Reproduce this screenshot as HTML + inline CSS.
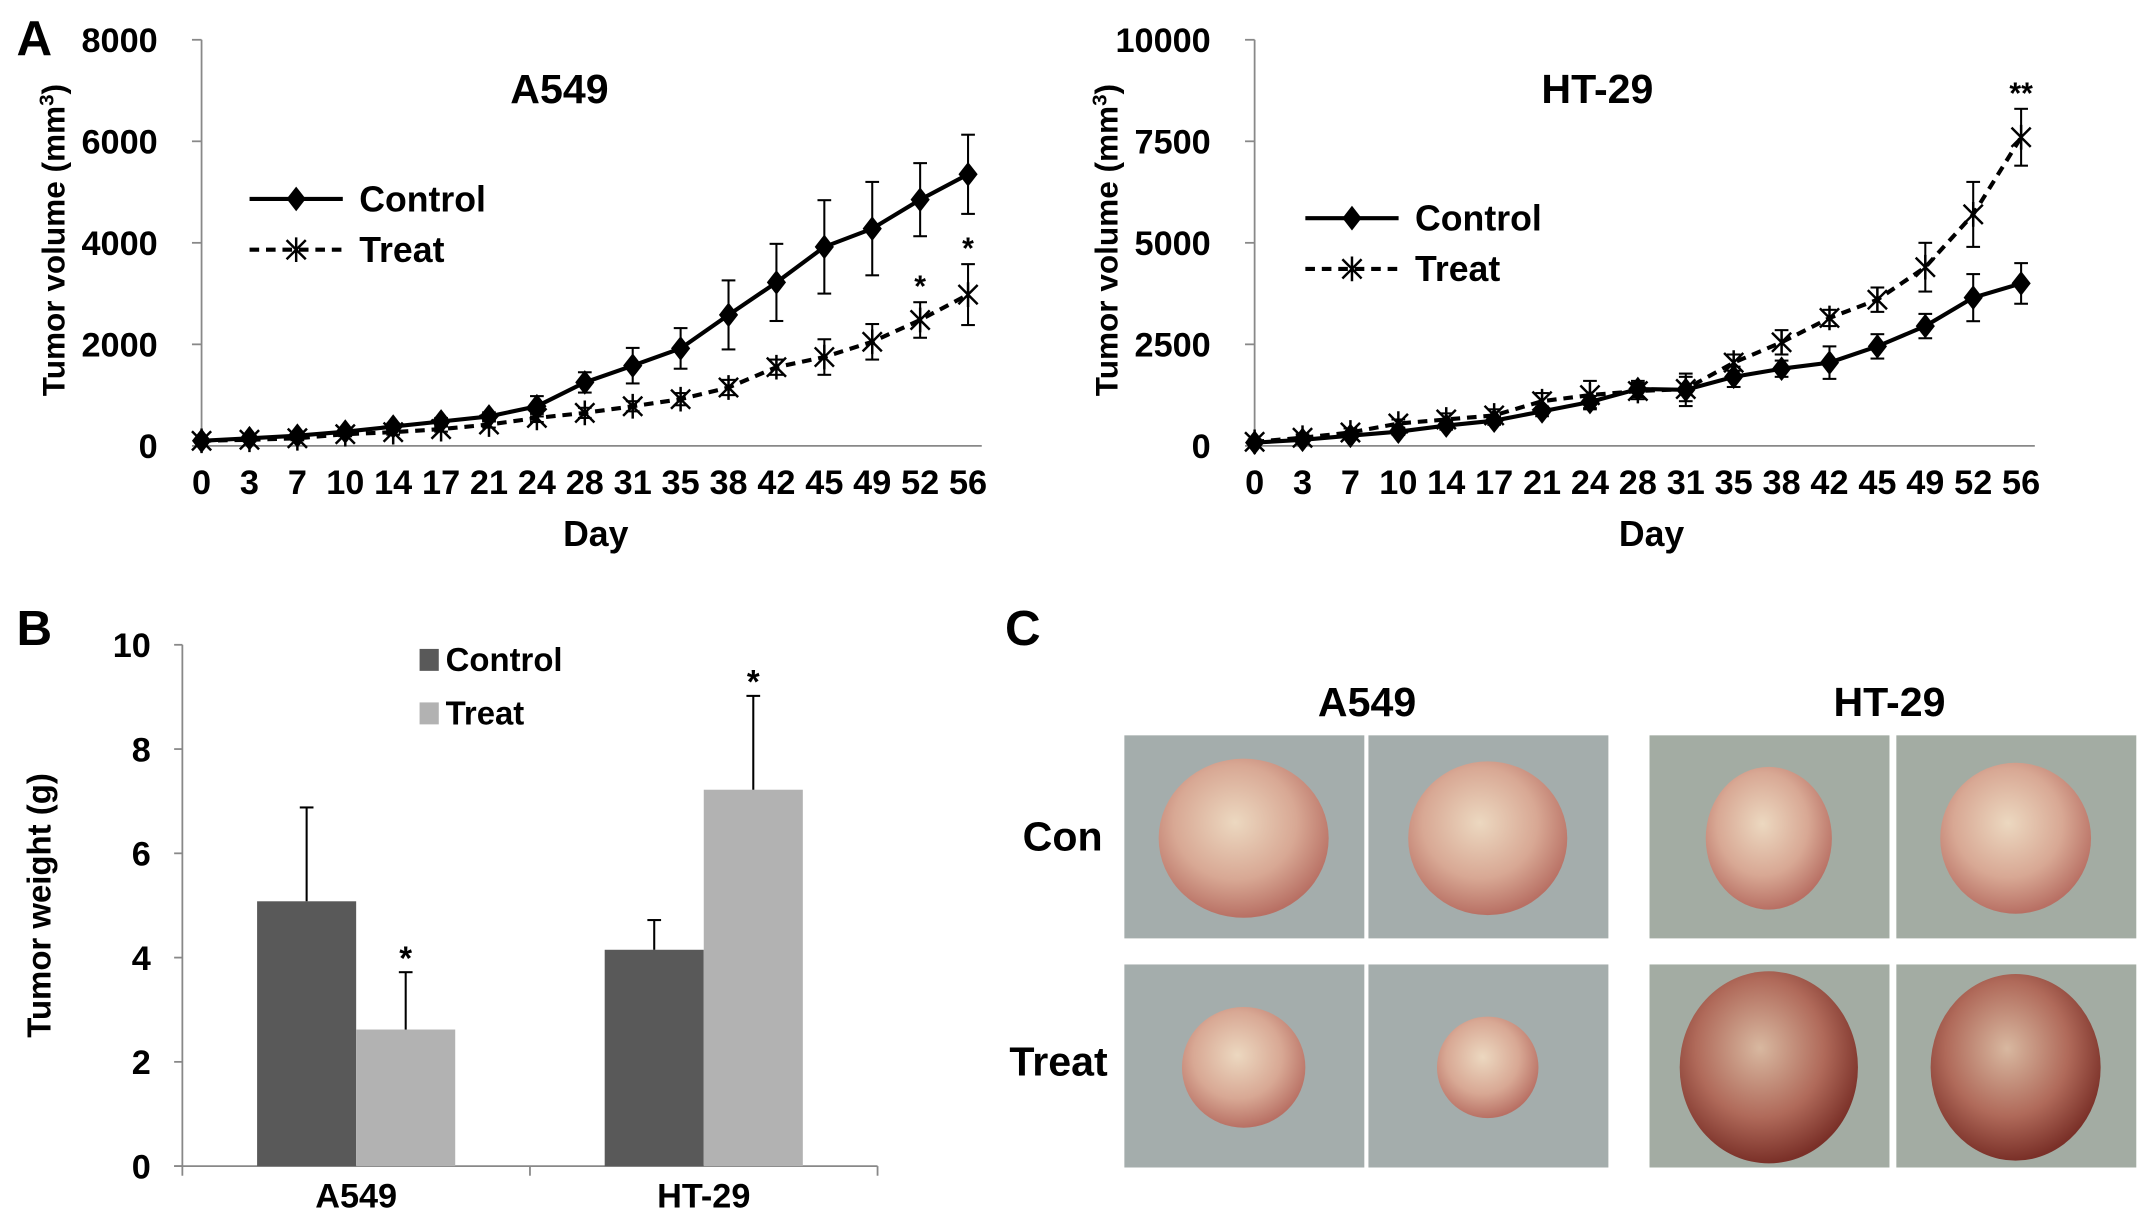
<!DOCTYPE html>
<html><head><meta charset="utf-8">
<style>
html,body{margin:0;padding:0;background:#fff;}
svg{display:block;}
text{font-family:"Liberation Sans Narrow","Liberation Sans",sans-serif;font-weight:bold;fill:#000;}
.w{font-family:"Liberation Sans",sans-serif;}
</style></head>
<body>
<svg id="fig" width="2150" height="1221" viewBox="0 0 1568 890" preserveAspectRatio="none" xmlns="http://www.w3.org/2000/svg">
<defs>
<radialGradient id="tumorA" cx="45%" cy="40%" r="60%"><stop offset="0" stop-color="#ecd8c0"/><stop offset="0.6" stop-color="#d8a894"/><stop offset="1" stop-color="#b87064"/></radialGradient>
<radialGradient id="tumorB" cx="45%" cy="40%" r="60%"><stop offset="0" stop-color="#d8b8a0"/><stop offset="0.6" stop-color="#b06a5a"/><stop offset="1" stop-color="#7a3028"/></radialGradient>
</defs>
<g id="layer"></g>
</svg>
<script>
// ---- data ----
const days = [0,3,7,10,14,17,21,24,28,31,35,38,42,45,49,52,56];
const a549Control = [100,150,200,280,380,480,580,780,1250,1580,1920,2580,3220,3920,4280,4850,5350];
const a549ControlErr = [40,40,50,60,60,70,80,200,200,350,400,680,760,920,920,720,780];
const a549Treat = [100,120,150,230,270,330,420,550,650,780,920,1150,1550,1750,2050,2480,2980];
const a549TreatErr = [30,30,40,40,50,50,60,80,100,100,120,150,150,350,350,350,600];
const ht29Control = [80,150,250,350,500,620,850,1080,1400,1380,1700,1900,2050,2450,2950,3650,4000];
const ht29ControlErr = [50,60,80,80,100,100,120,150,200,400,250,200,400,300,300,580,500];
const ht29Treat = [100,200,330,550,650,750,1100,1250,1350,1400,2050,2550,3150,3600,4400,5700,7600];
const ht29TreatErr = [60,80,100,100,150,150,200,350,200,300,200,300,200,300,600,800,700];
const a549Ticks = [0,2000,4000,6000,8000];
const ht29Ticks = [0,2500,5000,7500,10000];
const barGroups = ["A549","HT-29"];
const barControl = [5.08,4.15];
const barControlErr = [1.8,0.57];
const barTreat = [2.62,7.22];
const barTreatErr = [1.1,1.8];
const barTicks = [0,2,4,6,8,10];

const NS="http://www.w3.org/2000/svg";
const L=document.getElementById('layer');
function mk(tag,attrs,parent){const e=document.createElementNS(NS,tag);for(const k in attrs)e.setAttribute(k,attrs[k]);(parent||L).appendChild(e);return e;}
function txt(s,x,y,size,anchor,parent,cls){const t=mk('text',{x:x,y:y,'font-size':size,'text-anchor':anchor||'middle'},parent);if(cls)t.setAttribute('class',cls);t.textContent=s;return t;}

function lineChart(cfg){
  const g=mk('g',{});
  
  
  const x0=cfg.x0,x1=cfg.x1,yb=325,yt=29,max=cfg.ticks[cfg.ticks.length-1];
  const xs=i=>x0+i*(x1-x0)/(days.length-1);
  const ys=v=>yb-(v/max)*(yb-yt);
  // axes
  const ya=mk('line',{x1:x0,y1:yt,x2:x0,y2:yb,stroke:'#888','stroke-width':1.3},g);
  
  const xa=mk('line',{x1:x0-6,y1:yb,x2:x1+10,y2:yb,stroke:'#888','stroke-width':1.3},g);
  
  cfg.ticks.forEach(v=>{
    mk('line',{x1:x0-7,y1:ys(v),x2:x0,y2:ys(v),stroke:'#888','stroke-width':1.3},g);
    const t=txt(String(v),x0-32,ys(v)+9,25,'end',g);
    
  });
  days.forEach((d,i)=>{
    const t=txt(String(d),xs(i),360,25,'middle',g);
    
  });
  const xt=txt('Day',xs(8)+(cfg.dayOff||0),398,26,'middle',g,'w');
  
  const yT=mk('text',{x:0,y:0,'font-size':23,'text-anchor':'middle',transform:`translate(${x0-100},175) rotate(-90)`,class:'w'},g);
  
  yT.innerHTML='Tumor volume (mm<tspan dy="-8" font-size="15">3</tspan><tspan dy="8">)</tspan>';
  const ti=txt(cfg.title,cfg.titleX,75,30,'middle',g,'w');
  
  // series
  const series=[
    {vals:cfg.ctrl,err:cfg.ctrlErr,dash:null,mark:'diamond',name:'control-series'},
    {vals:cfg.treat,err:cfg.treatErr,dash:'7,5',mark:'star',name:'treat-series'}];
  series.forEach(s=>{
    const sg=mk('g',{},g);
    
    s.vals.forEach((v,i)=>{
      const x=xs(i),e=s.err[i];
      mk('line',{x1:x,y1:ys(v-e),x2:x,y2:ys(v+e),stroke:'#000','stroke-width':1.5},sg);
      mk('line',{x1:x-5,y1:ys(v+e),x2:x+5,y2:ys(v+e),stroke:'#000','stroke-width':1.5},sg);
      mk('line',{x1:x-5,y1:ys(v-e),x2:x+5,y2:ys(v-e),stroke:'#000','stroke-width':1.5},sg);
    });
    const pts=s.vals.map((v,i)=>xs(i)+','+ys(v)).join(' ');
    const pl=mk('polyline',{points:pts,fill:'none',stroke:'#000','stroke-width':3},sg);
    if(s.dash)pl.setAttribute('stroke-dasharray',s.dash);
    
    s.vals.forEach((v,i)=>drawMark(s.mark,xs(i),ys(v),sg));
  });
  cfg.stars.forEach(([i,str])=>{
    const v=cfg.treat[i]+cfg.treatErr[i];
    const t=txt(str,xs(i),ys(v)-4,22,'middle',g,'w');
    
  });
  // legend
  const lg=mk('g',{},g);
  const lx=cfg.legX,ly=cfg.legY;
  mk('line',{x1:lx,y1:ly,x2:lx+68,y2:ly,stroke:'#000','stroke-width':3},lg);
  drawMark('diamond',lx+34,ly,lg);
  txt('Control',lx+80,ly+9,26,'start',lg);
  mk('line',{x1:lx,y1:ly+37,x2:lx+68,y2:ly+37,stroke:'#000','stroke-width':3,'stroke-dasharray':'7,5'},lg);
  drawMark('star',lx+34,ly+37,lg);
  txt('Treat',lx+80,ly+46,26,'start',lg);
}
function drawMark(type,x,y,p){
  if(type==='diamond'){
    const m=mk('polygon',{points:`${x},${y-9} ${x+7},${y} ${x},${y+9} ${x-7},${y}`,fill:'#000'},p);
    
  }else{
    const m=mk('path',{d:`M${x-7},${y-7}L${x+7},${y+7}M${x+7},${y-7}L${x-7},${y+7}M${x},${y-9}L${x},${y+9}`,stroke:'#000','stroke-width':1.8,fill:'none'},p);
    
  }
}
lineChart({name:'a549-volume-chart',x0:147,x1:706,ticks:a549Ticks,ctrl:a549Control,ctrlErr:a549ControlErr,treat:a549Treat,treatErr:a549TreatErr,title:'A549',titleX:408,legX:182,legY:145,stars:[[15,'*'],[16,'*']],dayOff:8});
lineChart({name:'ht29-volume-chart',x0:915,x1:1474,ticks:ht29Ticks,ctrl:ht29Control,ctrlErr:ht29ControlErr,treat:ht29Treat,treatErr:ht29TreatErr,title:'HT-29',titleX:1165,legX:952,legY:159,stars:[[16,'**']],dayOff:10});

// panel letters
[['A',12,40],['B',12,470],['C',733,470]].forEach(([s,x,y])=>{
  const t=txt(s,x,y,36,'start',null,'w');
  
});

// bar chart
(function(){
  const g=mk('g',{});
  
  const x0=133,x1=640,yb=850,yt=470,max=10;
  const ys=v=>yb-(v/max)*(yb-yt);
  const gw=(x1-x0)/barGroups.length;
  const ya=mk('line',{x1:x0,y1:yt,x2:x0,y2:yb,stroke:'#888','stroke-width':1.3},g);
  
  const xa=mk('line',{x1:x0-6,y1:yb,x2:x1,y2:yb,stroke:'#888','stroke-width':1.3},g);
  
  barTicks.forEach(v=>{
    mk('line',{x1:x0-6,y1:ys(v),x2:x0,y2:ys(v),stroke:'#888','stroke-width':1.3},g);
    const t=txt(String(v),x0-23,ys(v)+9,25,'end',g);
    
  });
  for(let i=0;i<=barGroups.length;i++)mk('line',{x1:x0+i*gw,y1:yb,x2:x0+i*gw,y2:yb+7,stroke:'#888','stroke-width':1.3},g);
  const yT=txt('Tumor weight (g)',0,0,24,'middle',g,'w');
  yT.setAttribute('transform','translate(37,660) rotate(-90)');
  
  const bw=gw*0.285;
  barGroups.forEach((name,i)=>{
    const cx=x0+gw*(i+0.5);
    const lb=txt(name,cx,880,25,'middle',g);
    
    [[barControl,barControlErr,'#595959',cx-bw,'control'],[barTreat,barTreatErr,'#b2b2b2',cx,'treat']].forEach(([vals,errs,col,bx,nm])=>{
      const v=vals[i],e=errs[i];
      const r=mk('rect',{x:bx,y:ys(v),width:bw,height:yb-ys(v),fill:col},g);
      
      const ex=bx+bw/2;
      mk('line',{x1:ex,y1:ys(v),x2:ex,y2:ys(v+e),stroke:'#000','stroke-width':1.5},g);
      mk('line',{x1:ex-5,y1:ys(v+e),x2:ex+5,y2:ys(v+e),stroke:'#000','stroke-width':1.5},g);
      if(nm==='treat'){const s=txt('*',ex,ys(v+e)-2,24,'middle',g,'w');}
    });
  });
  const lg=mk('g',{},g);
  mk('rect',{x:306,y:473,width:14,height:16,fill:'#595959'},lg);
  txt('Control',325,489,24,'start',lg,'w');
  mk('rect',{x:306,y:512,width:14,height:16,fill:'#b2b2b2'},lg);
  txt('Treat',325,528,24,'start',lg,'w');
})();

// panel C photos
(function(){
  const g=mk('g',{});
  
  [['A549',997],['HT-29',1378]].forEach(([s,x])=>{const t=txt(s,x,522,30,'middle',g,'w');});
  [['Con',775,620],['Treat',772,784]].forEach(([s,x,y])=>{const t=txt(s,x,y,30,'middle',g,'w');});
  const cols=[820,998,1203,1383], rows=[536,703];
  const tum=[[[0,0,62,58,'A'],[1,0,58,56,'A'],[2,0,46,52,'A'],[3,0,55,55,'A']],
             [[0,1,45,44,'A'],[1,1,37,37,'A'],[2,1,65,70,'B'],[3,1,62,68,'B']]];
  rows.forEach((ry,ri)=>cols.forEach((cx,ci)=>{
    const bg=mk('rect',{x:cx,y:ry,width:175,height:148,fill:ci<2?'#a4adac':'#a3aca3'},g);
    
    const t=tum[ri][ci];
    mk('ellipse',{cx:cx+87,cy:ry+75,rx:t[2],ry:t[3],fill:t[4]==='A'?'url(#tumorA)':'url(#tumorB)'},g);
  }));
})();
</script>
</body></html>
